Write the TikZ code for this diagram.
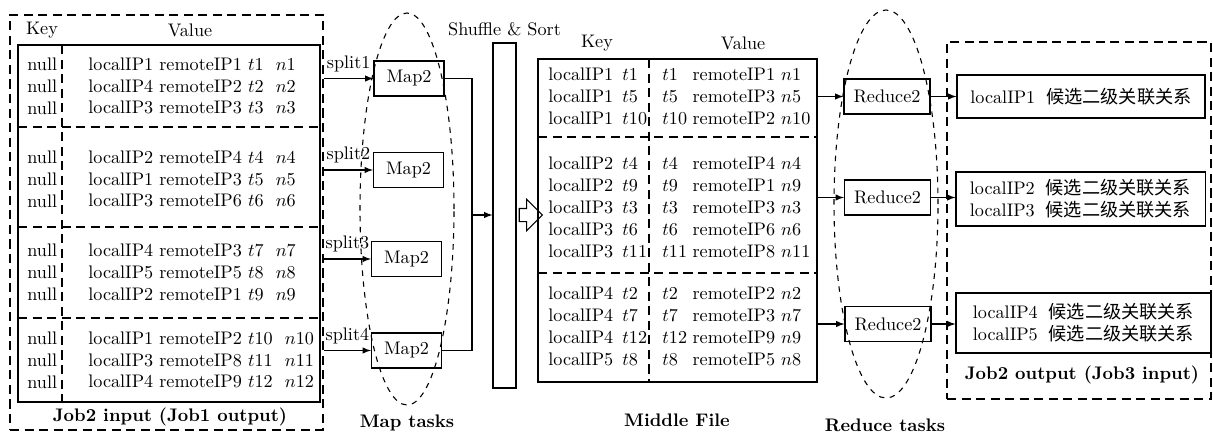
\documentclass[tikz,border=0pt]{standalone}
\usepackage{fontspec}
\newfontfamily\cjk{Noto Sans CJK SC}
\usetikzlibrary{shapes.arrows,positioning}
\tikzset{filebox/.style={draw,semithick,inner sep=0pt},
 dbox/.style={draw,line width=1pt,dash pattern=on 5pt off 3pt,inner sep=0pt},
 dsep/.style={line width=1pt,dash pattern=on 5pt off 3pt},
 ell/.style={draw,dashed,semithick},
 task/.style={draw,semithick,minimum height=19.25pt,inner sep=1pt},
 mapt/.style={task,minimum width=38.5pt},
 redt/.style={task,minimum width=47.3pt},
 rows/.style={align=left,inner sep=0pt,anchor=west},
 boldlab/.style={font=\bfseries},
 hollow/.style={draw,semithick,single arrow,minimum height=12.65pt,inner xsep=0pt,inner ysep=3.3pt,single arrow head extend=5pt}}
\newcommand{\kv}[2]{\begin{tabular}{@{}l@{\hspace{#1}}l@{}}#2\end{tabular}}

\begin{document}
\begin{tikzpicture}[x=0.55pt,y=-0.55pt,>=latex]
\useasboundingbox (0,0) rectangle (1213,434);
% input file
\node[dbox,minimum width=172.15pt,minimum height=228.25pt](inw) at(166.5,222.5){};
\node[filebox,minimum width=166.1pt,minimum height=196.35pt](in) at(169,223.5){};
\node(ink) at(42,30){Key};\node(inv) at(190,30){Value};
\draw[dsep](18,127)--(320,127);\draw[dsep](18,227)--(320,227);\draw[dsep](18,318)--(320,318);
\draw[dsep](62,45)--(62,402);
\node[rows](k1) at(27,86){null\\null\\null};
\node[rows](k2) at(27,179){null\\null\\null};
\node[rows](k3) at(27,272){null\\null\\null};
\node[rows](k4) at(27,360){null\\null\\null};
\node[rows](v1) at(88,86){localIP1 remoteIP1 $t1$~~$n1$\\localIP4 remoteIP2 $t2$~~$n2$\\localIP3 remoteIP3 $t3$~~$n3$};
\node[rows](v2) at(88,179){localIP2 remoteIP4 $t4$~~$n4$\\localIP1 remoteIP3 $t5$~~$n5$\\localIP3 remoteIP6 $t6$~~$n6$};
\node[rows](v3) at(88,272){localIP4 remoteIP3 $t7$~~$n7$\\localIP5 remoteIP5 $t8$~~$n8$\\localIP2 remoteIP1 $t9$~~$n9$};
\node[rows](v4) at(88,360){localIP1 remoteIP2 $t10$~~$n10$\\localIP3 remoteIP8 $t11$~~$n11$\\localIP4 remoteIP9 $t12$~~$n12$};
\node[boldlab](incap) at(170,417){Job2 input (Job1 output)};
% map tasks
\draw[ell](407,209) ellipse[x radius=25.85pt,y radius=107.8pt];
\node[mapt](m1) at(409,78.5){Map2};
\node[mapt](m2) at(408.5,170){Map2};
\node[mapt](m3) at(406.5,259){Map2};
\node[mapt](m4) at(406.5,350.5){Map2};
\draw[->,semithick](inw.east|-m1)--node[above]{split1}(m1);
\draw[->,semithick](inw.east|-m2)--node[above]{split2}(m2);
\draw[->,semithick](inw.east|-m3)--node[above]{split3}(m3);
\draw[->,semithick](inw.east|-m4)--node[above]{split4}(m4);
\node[boldlab](mapcap) at(407,423){Map tasks};
% shuffle
\node[filebox,minimum width=12.65pt,minimum height=189.75pt](bar) at(504.5,215.5){};
\node[above=0pt of bar](ss){Shuffle \& Sort};
\coordinate(j) at(472,215);
\draw[semithick](m1.east)-|(j)|-(m4.east);
\draw[->,semithick](j)--(j-|bar.west);
\node[hollow](sa) at(527.5,215){};
% middle file
\node[filebox,minimum width=153.45pt,minimum height=177.65pt](mid) at(677.5,220.5){};
\node(mk) at(597,43){Key};\node(mv) at(743,43){Value};
\draw[dsep](538,137)--(817,137);\draw[dsep](538,273)--(817,273);
\draw[dsep](649,59)--(649,382);
\node[rows](mk1) at(548,98){\kv{5pt}{localIP1&$t1$\\localIP1&$t5$\\localIP1&$t10$}};
\node[rows](mk2) at(548,209){\kv{5pt}{localIP2&$t4$\\localIP2&$t9$\\localIP3&$t3$\\localIP3&$t6$\\localIP3&$t11$}};
\node[rows](mk3) at(548,328){\kv{5pt}{localIP4&$t2$\\localIP4&$t7$\\localIP4&$t12$\\localIP5&$t8$}};
\node[rows](mv1) at(662,98){\kv{3pt}{$t1$&remoteIP1 $n1$\\$t5$&remoteIP3 $n5$\\$t10$&remoteIP2 $n10$}};
\node[rows](mv2) at(662,209){\kv{3pt}{$t4$&remoteIP4 $n4$\\$t9$&remoteIP1 $n9$\\$t3$&remoteIP3 $n3$\\$t6$&remoteIP6 $n6$\\$t11$&remoteIP8 $n11$}};
\node[rows](mv3) at(662,328){\kv{3pt}{$t2$&remoteIP2 $n2$\\$t7$&remoteIP3 $n7$\\$t12$&remoteIP9 $n9$\\$t8$&remoteIP5 $n8$}};
\node[boldlab](midcap) at(677,420){Middle File};
% reduce tasks
\draw[ell](886,204) ellipse[x radius=28.6pt,y radius=106.7pt];
\node[redt](r1) at(887,96.5){Reduce2};
\node[redt](r2) at(887.5,197.5){Reduce2};
\node[redt](r3) at(888,324){Reduce2};
\draw[->,semithick](mid.east|-r1)--(r1);
\draw[->,semithick](mid.east|-r2)--(r2);
\draw[->,semithick](mid.east|-r3)--(r3);
\node[boldlab](redcap) at(885,425){Reduce tasks};
% output file
\node[dbox,minimum width=145.2pt,minimum height=196.35pt](outw) at(1079,220.5){};
\node[filebox,minimum width=136.4pt,minimum height=23.65pt](o1) at(1081,96.5){localIP1\hspace{6pt}{\cjk 候选二级关联关系}};
\node[filebox,minimum width=137pt,minimum height=29.7pt,align=center](o2) at(1080.5,199){localIP2\hspace{6pt}{\cjk 候选二级关联关系}\\localIP3\hspace{6pt}{\cjk 候选二级关联关系}};
\node[filebox,minimum width=140.25pt,minimum height=33pt,align=center](o3) at(1083.5,323){localIP4\hspace{6pt}{\cjk 候选二级关联关系}\\localIP5\hspace{6pt}{\cjk 候选二级关联关系}};
\draw[->,semithick](r1)--(r1-|o1.west);
\draw[->,semithick](r2)--(r2-|o2.west);
\draw[->,semithick](r3)--(r3-|o3.west);
\node[boldlab](outcap) at(1082,375){Job2 output (Job3 input)};
\end{tikzpicture}
\end{document}
